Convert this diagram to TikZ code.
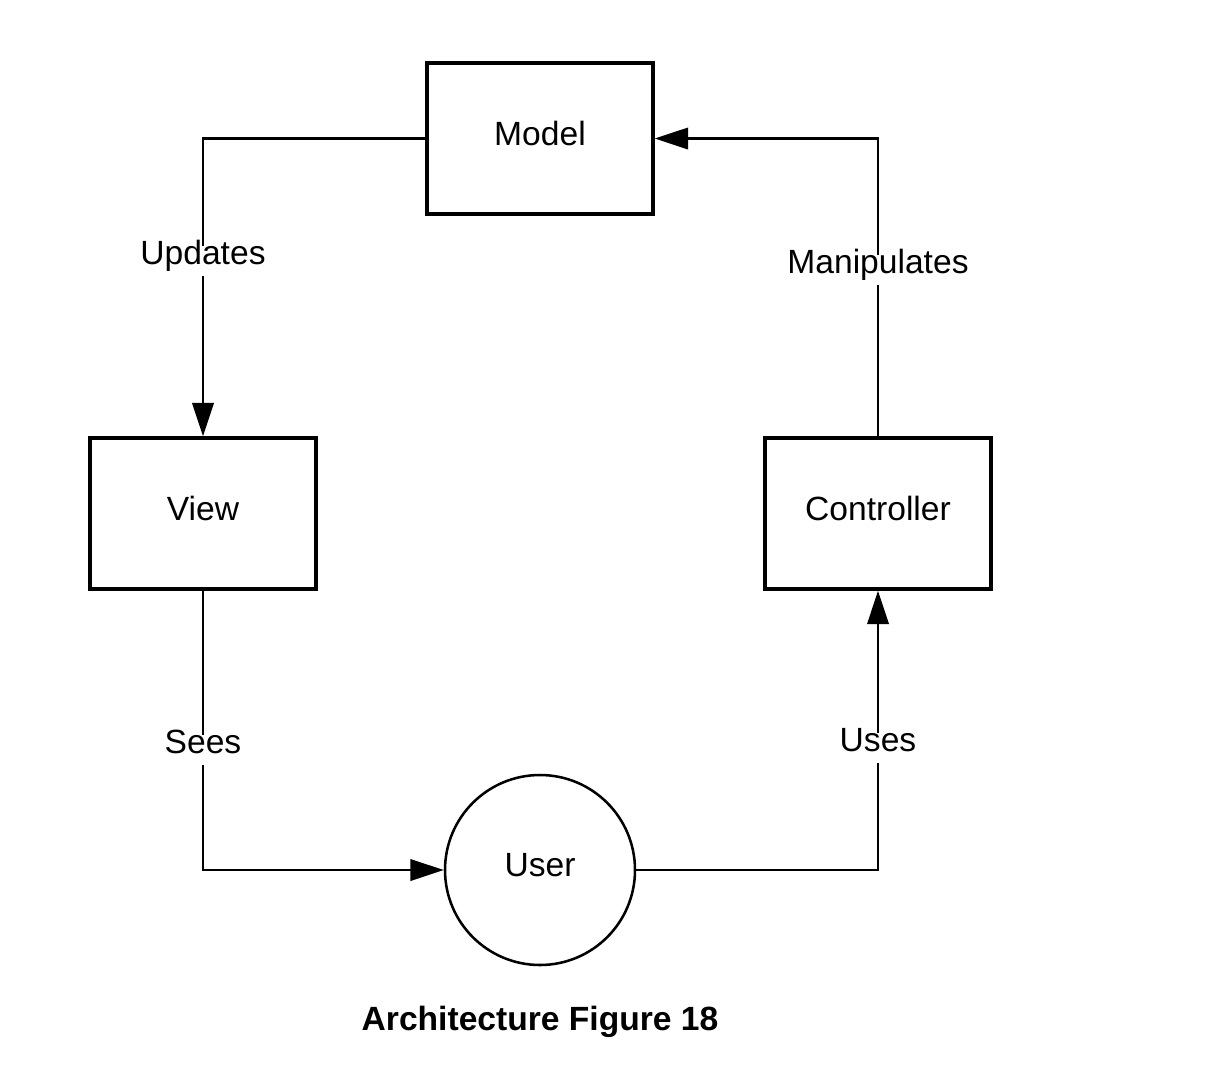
\documentclass[tikz,border=0pt]{standalone}
\usepackage{fontspec}
\setmainfont{Liberation Sans}
\usetikzlibrary{arrows.meta}
\begin{document}
\begin{tikzpicture}[x=0.75pt,y=-0.75pt,
  every node/.style={font=\fontsize{25.2}{30}\selectfont},
  box/.style={draw, line width=2.6pt, minimum width=169.5pt, minimum height=113.25pt, inner sep=0pt, text height=1.07em, text depth=0.05em},
  usernode/.style={draw, circle, line width=1.9pt, minimum size=142.5pt, inner sep=0pt, text height=1.06em, text depth=0.02em},
  conn/.style={line width=1.9pt},
  arr/.style={conn, -{Triangle[length=25pt,width=16pt]}},
  lbl/.style={fill=white, inner xsep=2pt, inner ysep=7pt, text height=0.72em, text depth=0.2em}]
\useasboundingbox (0,0) rectangle (1217,1082);
\node[box] (model) at (540,138.5) {Model};
\node[box] (view) at (203,513.5) {View};
\node[box] (ctrl) at (878,513.5) {Controller};
\node[usernode] (user) at (540,870) {User};
\draw[arr] (model.west) -| (view.north);
\draw[arr] (ctrl.north) |- (model.east);
\draw[arr] (view.south) |- (user.west);
\draw[arr] (user.east) -| (ctrl.south);
\node[lbl] (lupd) at (203,261) {Updates};
\node[lbl] (lman) at (878,270) {Manipulates};
\node[lbl] (lsee) at (203,750) {Sees};
\node[lbl] (luse) at (878,748) {Uses};
\node[font=\fontsize{25.2}{30}\selectfont\bfseries] (title) at (540,1022) {Architecture Figure 18};
\end{tikzpicture}
\end{document}
